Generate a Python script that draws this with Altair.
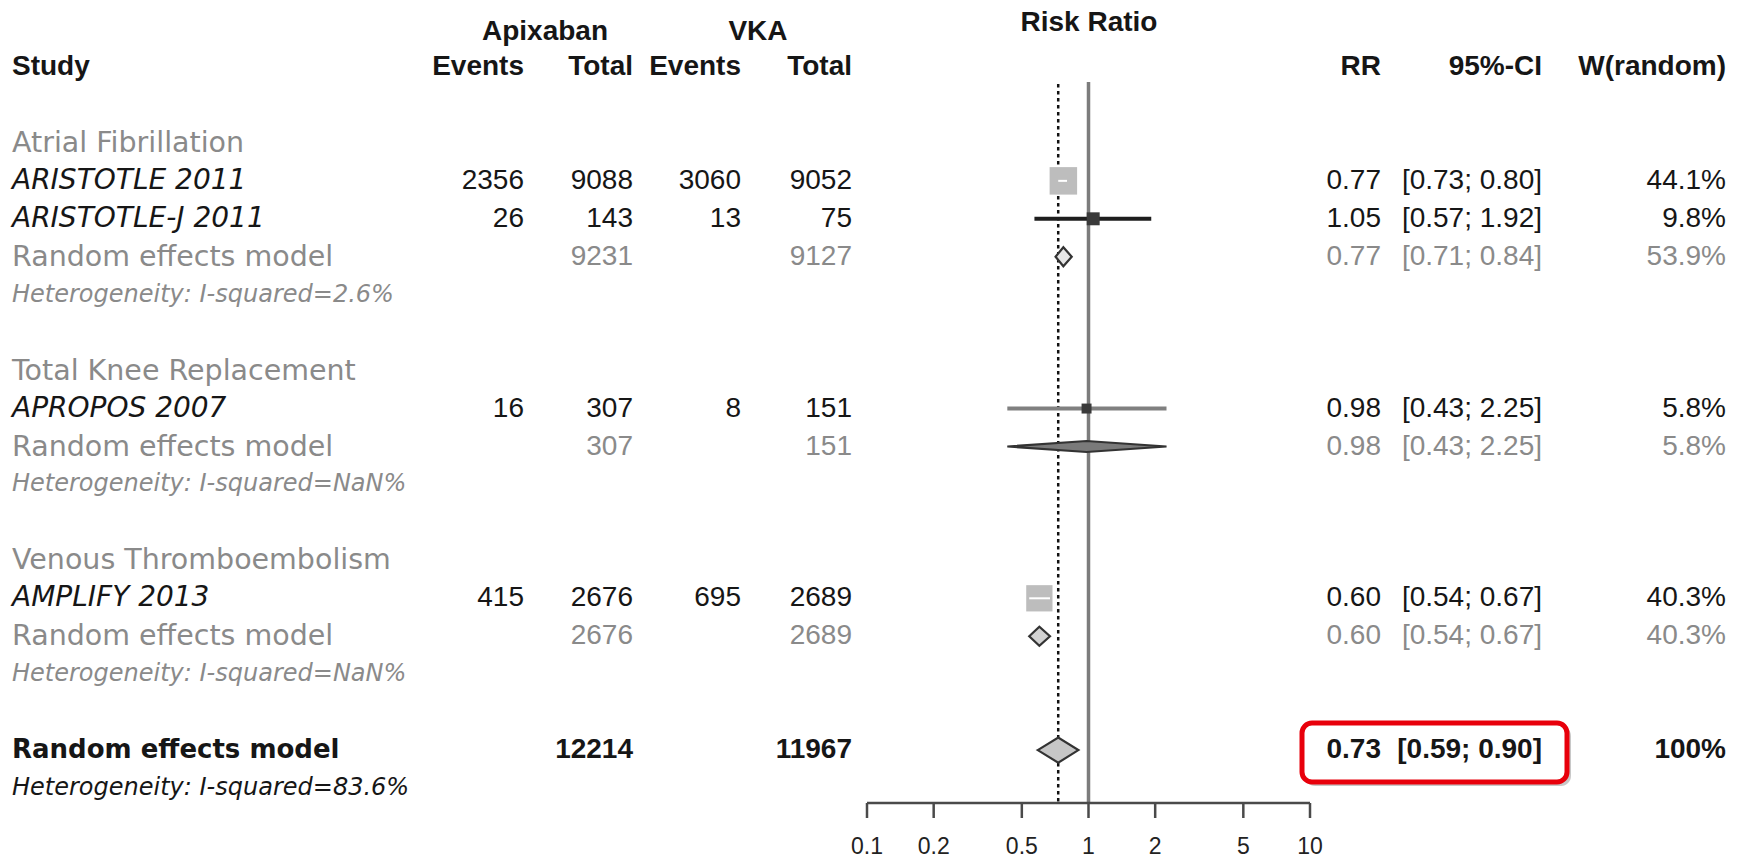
import altair as alt
import pandas as pd
import numpy as np

# ------------------------------------------------------------------ data
groups = ["Atrial Fibrillation", "Total Knee Replacement", "Venous Thromboembolism"]
study_names = ["ARISTOTLE 2011", "ARISTOTLE-J 2011", "APROPOS 2007", "AMPLIFY 2013"]
study_group = [0, 0, 1, 2]
apix_events = [2356, 26, 16, 415]
apix_total = [9088, 143, 307, 2676]
vka_events = [3060, 13, 8, 695]
vka_total = [9052, 75, 151, 2689]
study_rr = [0.77, 1.05, 0.98, 0.60]
study_lo = [0.73, 0.57, 0.43, 0.54]
study_hi = [0.80, 1.92, 2.25, 0.67]
study_weight = [44.1, 9.8, 5.8, 40.3]

group_apix_total = [9231, 307, 2676]
group_vka_total = [9127, 151, 2689]
group_rr = [0.77, 0.98, 0.60]
group_lo = [0.71, 0.43, 0.54]
group_hi = [0.84, 2.25, 0.67]
group_weight = [53.9, 5.8, 40.3]
group_i2 = ["2.6%", "NaN%", "NaN%"]

overall_apix_total = 12214
overall_vka_total = 11967
overall_rr = 0.73
overall_lo = 0.59
overall_hi = 0.90
overall_weight = "100%"
overall_i2 = "83.6%"

axis_ticks = [0.1, 0.2, 0.5, 1, 2, 5, 10]
axis_tick_labels = ["0.1", "0.2", "0.5", "1", "2", "5", "10"]

# ------------------------------------------------------------------ layout / style
W, H = 1740, 858
FONT = "DejaVu Sans"          # row labels
NFONT = "Liberation Sans"     # numbers and column headers
FS = 26
FS_STUDY = 28
FS_GRAY = 28.5
FS_NUM = 28
FS_HET = 24
BLACK = "#161616"
GRAY = "#8a8a8a"
ROW_PX = 37.95
Y0 = 67
X_LOG_RANGE = [867, 1310]

COL_STUDY = 12
COL_EV_A, COL_N_A, COL_EV_V, COL_N_V = 524, 633, 741, 852
COL_RR, COL_CI, COL_W = 1381, 1542, 1726

xscale = alt.Scale(type="log", domain=[0.1, 10], range=X_LOG_RANGE)
yscale = alt.Scale(domain=[0, 20], range=[Y0, Y0 + 20 * ROW_PX], zero=False, nice=False)


def fmt_ci(lo, hi):
    return f"[{lo:.2f}; {hi:.2f}]"


# ------------------------------------------------------------------ table rows
rows = []
r = 2
for gi, g in enumerate(groups):
    rows.append(dict(row=r, kind="group", label=g))
    r += 1
    for si in [i for i, x in enumerate(study_group) if x == gi]:
        rows.append(dict(row=r, kind="study", label=study_names[si],
                         ev_a=str(apix_events[si]), n_a=str(apix_total[si]),
                         ev_v=str(vka_events[si]), n_v=str(vka_total[si]),
                         rr=f"{study_rr[si]:.2f}", ci=fmt_ci(study_lo[si], study_hi[si]),
                         w=f"{study_weight[si]:.1f}%",
                         est=study_rr[si], lo=study_lo[si], hi=study_hi[si],
                         weight=study_weight[si], name=study_names[si]))
        r += 1
    rows.append(dict(row=r, kind="re", label="Random effects model",
                     n_a=str(group_apix_total[gi]), n_v=str(group_vka_total[gi]),
                     rr=f"{group_rr[gi]:.2f}", ci=fmt_ci(group_lo[gi], group_hi[gi]),
                     w=f"{group_weight[gi]:.1f}%",
                     est=group_rr[gi], lo=group_lo[gi], hi=group_hi[gi], gi=gi))
    r += 1
    rows.append(dict(row=r, kind="het", label=f"Heterogeneity: I-squared={group_i2[gi]}"))
    r += 2
rows.append(dict(row=r, kind="overall", label="Random effects model",
                 n_a=str(overall_apix_total), n_v=str(overall_vka_total),
                 rr=f"{overall_rr:.2f}", ci=fmt_ci(overall_lo, overall_hi),
                 w=overall_weight, est=overall_rr, lo=overall_lo, hi=overall_hi, gi=3))
rows.append(dict(row=r + 1, kind="hetall", label=f"Heterogeneity: I-squared={overall_i2}"))

tab = pd.DataFrame(rows)
for c in ["ev_a", "n_a", "ev_v", "n_v", "rr", "ci", "w"]:
    tab[c] = tab[c].fillna("")


def sub(kind):
    return tab[tab["kind"] == kind].copy()


def text_layer(df, field, x, align, color, size=FS, weight="normal", style="normal", font=FONT):
    return alt.Chart(df).mark_text(
        align=align, baseline="middle", font=font, fontSize=size,
        fontWeight=weight, fontStyle=style, color=color
    ).encode(
        x=alt.value(x),
        y=alt.Y("row:Q", scale=yscale, axis=None),
        text=alt.Text(f"{field}:N"),
    )


one = pd.DataFrame({"k": [0]})


def header(label, x, y, align, size=FS_NUM, font=NFONT):
    return alt.Chart(pd.DataFrame({"t": [label]})).mark_text(
        align=align, baseline="middle", font=font, fontSize=size,
        fontWeight="bold", color=BLACK
    ).encode(x=alt.value(x), y=alt.value(y), text="t:N")


layers = []

# ---- red highlight box (shadow + box), drawn under the text
layers.append(alt.Chart(one).mark_rect(cornerRadius=10, color="#9a9a9a", opacity=0.55).encode(
    x=alt.value(1305), x2=alt.value(1571), y=alt.value(726), y2=alt.value(786)))
layers.append(alt.Chart(one).mark_rect(cornerRadius=10, fill="white", stroke="#e8000b",
                                       strokeWidth=5).encode(
    x=alt.value(1302), x2=alt.value(1567), y=alt.value(723), y2=alt.value(782)))

# ---- headers
layers += [
    header("Apixaban", 545, 32, "center"),
    header("VKA", 758, 32, "center"),
    header("Risk Ratio", 1089, 23, "center"),
    header("Study", COL_STUDY, Y0, "left"),
    header("Events", COL_EV_A, Y0, "right"),
    header("Total", COL_N_A, Y0, "right"),
    header("Events", COL_EV_V, Y0, "right"),
    header("Total", COL_N_V, Y0, "right"),
    header("RR", COL_RR, Y0, "right"),
    header("95%-CI", COL_CI, Y0, "right"),
    header("W(random)", COL_W, Y0, "right"),
]

# ---- table text
num_cols = [("ev_a", COL_EV_A), ("n_a", COL_N_A), ("ev_v", COL_EV_V), ("n_v", COL_N_V),
            ("rr", COL_RR), ("ci", COL_CI), ("w", COL_W)]

layers.append(text_layer(sub("group"), "label", COL_STUDY, "left", GRAY, size=FS_GRAY))
layers.append(text_layer(sub("study"), "label", COL_STUDY, "left", BLACK, size=FS_STUDY, style="italic"))
layers.append(text_layer(sub("re"), "label", COL_STUDY, "left", GRAY, size=FS_GRAY))
layers.append(text_layer(sub("het"), "label", COL_STUDY, "left", GRAY, size=FS_HET, style="italic"))
layers.append(text_layer(sub("overall"), "label", COL_STUDY, "left", BLACK, weight="bold"))
layers.append(text_layer(sub("hetall"), "label", COL_STUDY, "left", BLACK, size=FS_HET, style="italic"))
for f, x in num_cols:
    layers.append(text_layer(sub("study"), f, x, "right", BLACK, size=FS_NUM, font=NFONT))
    layers.append(text_layer(sub("re"), f, x, "right", GRAY, size=FS_NUM, font=NFONT))
    layers.append(text_layer(sub("overall"), f, x, "right", BLACK, size=FS_NUM, font=NFONT, weight="bold"))

# ---- forest: reference lines
layers.append(alt.Chart(pd.DataFrame({"v": [1.0]})).mark_rule(color="#7c7c7c", strokeWidth=3.5).encode(
    x=alt.X("v:Q", scale=xscale, axis=None), y=alt.value(82), y2=alt.value(803)))
layers.append(alt.Chart(pd.DataFrame({"v": [overall_rr]})).mark_rule(
    color="#111111", strokeWidth=2.5, strokeDash=[3.5, 3.5]).encode(
    x=alt.X("v:Q", scale=xscale, axis=None), y=alt.value(84), y2=alt.value(803)))

# ---- study CIs and squares
st = sub("study")
side = np.sqrt(st["weight"].to_numpy() * 17.1)
ci_px = (np.log10(st["hi"].to_numpy()) - np.log10(st["lo"].to_numpy())) * (X_LOG_RANGE[1] - X_LOG_RANGE[0]) / 2
st["inside"] = ci_px < side
outer_colors = {"ARISTOTLE-J 2011": "#1e1e1e", "APROPOS 2007": "#808080"}
st["ci_col"] = [outer_colors.get(n, "#333333") for n in st["name"]]
st["sq_col"] = ["#bdbdbd" if i else "#3a3a3a" for i in st["inside"]]
outside = st[~st["inside"]]
inside = st[st["inside"]]

layers.append(alt.Chart(outside).mark_rule(strokeWidth=4).encode(
    x=alt.X("lo:Q", scale=xscale, axis=None), x2="hi:Q",
    y=alt.Y("row:Q", scale=yscale, axis=None),
    color=alt.Color("ci_col:N", scale=None)))
layers.append(alt.Chart(st).mark_square(filled=True, opacity=1).encode(
    x=alt.X("est:Q", scale=xscale, axis=None),
    y=alt.Y("row:Q", scale=yscale, axis=None),
    color=alt.Color("sq_col:N", scale=None),
    size=alt.Size("weight:Q", scale=alt.Scale(domain=[0, 44.1], range=[0, 756]), legend=None)))
layers.append(alt.Chart(inside).mark_rule(strokeWidth=2, color="white").encode(
    x=alt.X("lo:Q", scale=xscale, axis=None), x2="hi:Q",
    y=alt.Y("row:Q", scale=yscale, axis=None)))

# ---- diamonds (pooled estimates)
half_px = {0: 9.5, 1: 5.5, 2: 9.5, 3: 12.5}
fills = {0: "#e6e6e6", 1: "#7a7a7a", 2: "#d2d2d2", 3: "#c6c6c6"}
dia_rows = []
pooled = tab[tab["kind"].isin(["re", "overall"])]
for _, p in pooled.iterrows():
    gi = int(p["gi"])
    h = half_px[gi] / ROW_PX
    for xv, y1, y2 in [(p["lo"], p["row"], p["row"]),
                       (p["est"], p["row"] - h, p["row"] + h),
                       (p["hi"], p["row"], p["row"])]:
        dia_rows.append(dict(d=gi, x=xv, y1=y1, y2=y2, fill=fills[gi]))
dia = pd.DataFrame(dia_rows)
layers.append(alt.Chart(dia).mark_area(stroke="#333333", strokeWidth=2.2, interpolate="linear").encode(
    x=alt.X("x:Q", scale=xscale, axis=None),
    y=alt.Y("y1:Q", scale=yscale, axis=None), y2="y2:Q",
    detail="d:N",
    fill=alt.Fill("fill:N", scale=None)))

# ---- x axis drawn through the log scale
layers.append(alt.Chart(pd.DataFrame({"a": [axis_ticks[0]], "b": [axis_ticks[-1]]})).mark_rule(
    color="#4a4a4a", strokeWidth=2.5).encode(
    x=alt.X("a:Q", scale=xscale, axis=None), x2="b:Q", y=alt.value(803)))
ticks = pd.DataFrame({"v": axis_ticks, "lab": axis_tick_labels})
layers.append(alt.Chart(ticks).mark_rule(color="#4a4a4a", strokeWidth=2.5).encode(
    x=alt.X("v:Q", scale=xscale, axis=None), y=alt.value(803), y2=alt.value(818)))
layers.append(alt.Chart(ticks).mark_text(font=NFONT, fontSize=23, color="#222222",
                                         baseline="middle", align="center").encode(
    x=alt.X("v:Q", scale=xscale, axis=None), y=alt.value(847), text="lab:N"))

chart = alt.layer(*layers).properties(
    width=W, height=H, padding=0, background="white",
    autosize=alt.AutoSizeParams(type="none"),
).configure_view(stroke=None)

chart.save("out.html", embed_options={"renderer": "svg", "actions": False})
